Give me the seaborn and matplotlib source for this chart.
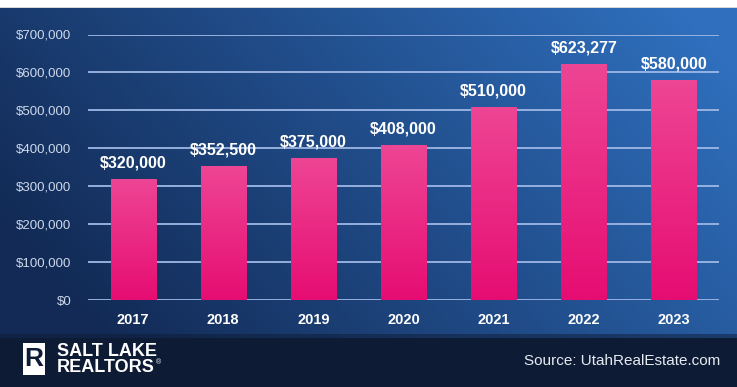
import numpy as np
import matplotlib
matplotlib.use("Agg")
import matplotlib.pyplot as plt
import seaborn as sns
from matplotlib.patches import Rectangle

years = ["2017", "2018", "2019", "2020", "2021", "2022", "2023"]
prices = [320000, 352500, 375000, 408000, 510000, 623277, 580000]
price_labels = ["$320,000", "$352,500", "$375,000", "$408,000", "$510,000", "$623,277", "$580,000"]
yticks = [0, 100000, 200000, 300000, 400000, 500000, 600000, 700000]
ytick_labels = ["$0", "$100,000", "$200,000", "$300,000", "$400,000", "$500,000", "$600,000", "$700,000"]

sns.set_theme(style="white")
plt.rcParams['font.family'] = ['Liberation Sans', 'DejaVu Sans']

W, H = 737, 387
fig = plt.figure(figsize=(W / 100, H / 100), dpi=100)

# background
bg = fig.add_axes([0, 0, 1, 1], zorder=-10)
yy, xx = np.mgrid[0:H, 0:W]
t = np.clip(0.85 * xx / W + 0.35 * (1 - yy / 338) - 0.12, 0, 1)
c0 = np.array([0x12, 0x2a, 0x55]) / 255
c1 = np.array([0x2f, 0x6f, 0xbd]) / 255
img = c0[None, None, :] * (1 - t[..., None]) + c1[None, None, :] * t[..., None]
band = np.array([0x0e, 0x1b, 0x35]) / 255
img[338:, :, :] = band
img[334:338, :, :] = (img[334:338, :, :] + band) / 2
img[:7, :, :] = 1.0
img[7, :, :] = 0.85
bg.imshow(img, aspect='auto', extent=[0, W, H, 0])
bg.set_xlim(0, W)
bg.set_ylim(H, 0)
bg.axis('off')

# main chart
ax = fig.add_axes([88 / W, (H - 300) / H, (719 - 88) / W, (300 - 34.5) / H])
ax.set_facecolor('none')
sns.barplot(x=years, y=prices, color="#e8197c", width=0.5, linewidth=0, ax=ax, zorder=3)
ax.set_ylim(0, 700000)
ax.set_xlim(-0.5, 6.5)
ax.set_yticks(yticks)
ax.set_yticklabels(ytick_labels, color="#cdd8ea", fontsize=9.5)
ax.tick_params(axis='y', length=0, pad=12)
ax.tick_params(axis='x', length=0, pad=9.5)
for lbl in ax.get_xticklabels():
    lbl.set_color("white")
    lbl.set_fontweight("bold")
    lbl.set_fontsize(10.5)
ax.set_xlabel("")
ax.set_ylabel("")
for s in ax.spines.values():
    s.set_visible(False)
for yv in yticks:
    ax.axhline(yv, color="#9fb8e6", lw=1.3, zorder=1)

# gradient fill of bars
grad = np.linspace(0, 1, 100)[:, None]
ctop = np.array([0xee, 0x45, 0x95]) / 255
cbot = np.array([0xe6, 0x0d, 0x72]) / 255
gimg = ctop[None, None, :] * (1 - grad[..., None]) + cbot[None, None, :] * grad[..., None]
gimg = np.repeat(gimg, 2, axis=1)
for p in ax.patches:
    x0, w, h = p.get_x(), p.get_width(), p.get_height()
    p.set_edgecolor('none')
    im = ax.imshow(gimg, extent=[x0, x0 + w, 0, h], aspect='auto', zorder=4,
                   interpolation='bilinear')
    im.set_clip_path(p)
ax.set_xlim(-0.5, 6.5)
ax.set_ylim(0, 700000)

for i, (v, s) in enumerate(zip(prices, price_labels)):
    ax.annotate(s, (i, v), xytext=(0, 6), textcoords='offset points', ha='center', va='bottom',
                color='white', fontweight='bold', fontsize=11.5, zorder=6)

# footer
fig.patches.append(Rectangle((23 / W, (H - 375) / H), 22 / W, 32 / H, transform=fig.transFigure,
                             facecolor='white', edgecolor='none'))
fig.text(34 / W, (H - 359) / H, "R", color="#0e1b35", fontsize=19, fontweight='bold',
         ha='center', va='center')
fig.text(57 / W, (H - 351) / H, "SALT LAKE", color='white', fontsize=13, fontweight='bold',
         ha='left', va='center')
fig.text(57 / W, (H - 368) / H, "REALTORS", color='white', fontsize=13, fontweight='bold',
         ha='left', va='center')
fig.text(156 / W, (H - 363) / H, "®", color='white', fontsize=5, ha='left', va='center')
fig.text(720 / W, (H - 361) / H, "Source: UtahRealEstate.com", color='#e6ebf2', fontsize=11,
         ha='right', va='center')

fig.savefig("out.png", dpi=100)
